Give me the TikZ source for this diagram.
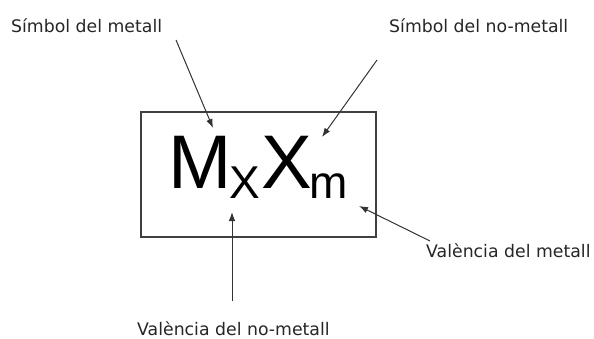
\documentclass[tikz,border=0pt]{standalone}
\usepackage{fontspec}
\setmainfont{Liberation Sans}
\newfontfamily\lblfont{DejaVu Sans}
\usetikzlibrary{arrows.meta}
\begin{document}
\begin{tikzpicture}[x=1pt,y=-1pt,
  lbl/.style={inner sep=0pt,anchor=base west,text=black!85,font=\lblfont\fontsize{17.3}{20}\selectfont},
  pointer/.style={-{Latex[length=9pt,width=6.5pt]},line width=1pt,black!80}]
\useasboundingbox (0,0) rectangle (594,338);
\node[draw=black!75,line width=1.3pt,minimum width=235pt,minimum height=125pt,inner sep=0pt] (box) at (258.5,174.5) {};
\node[inner sep=0pt,anchor=base west,font=\fontsize{76}{80}\selectfont] (formula) at (168,188)
  {M\kern-2pt\raisebox{-10pt}{\fontsize{46}{50}\selectfont X}\kern1.5pt X\kern-3pt\raisebox{-10pt}{\fontsize{46}{50}\selectfont m}};
\node[lbl] (simbM) at (11,32) {Símbol del metall};
\node[lbl] (simbX) at (389,32) {Símbol del no-metall};
\node[lbl] (valM) at (426,257) {València del metall};
\node[lbl] (valX) at (137,335) {València del no-metall};
\coordinate (simbM-from) at (176,40);  \coordinate (simbM-to) at (213,128);
\coordinate (simbX-from) at (377,60);  \coordinate (simbX-to) at (322,137);
\coordinate (valM-from) at (430,241);  \coordinate (valM-to) at (359,206);
\coordinate (valX-from) at (232,301);  \coordinate (valX-to) at (232,212);
\draw[pointer] (simbM-from) -- (simbM-to);
\draw[pointer] (simbX-from) -- (simbX-to);
\draw[pointer] (valM-from) -- (valM-to);
\draw[pointer] (valX-from) -- (valX-to);
\end{tikzpicture}
\end{document}
